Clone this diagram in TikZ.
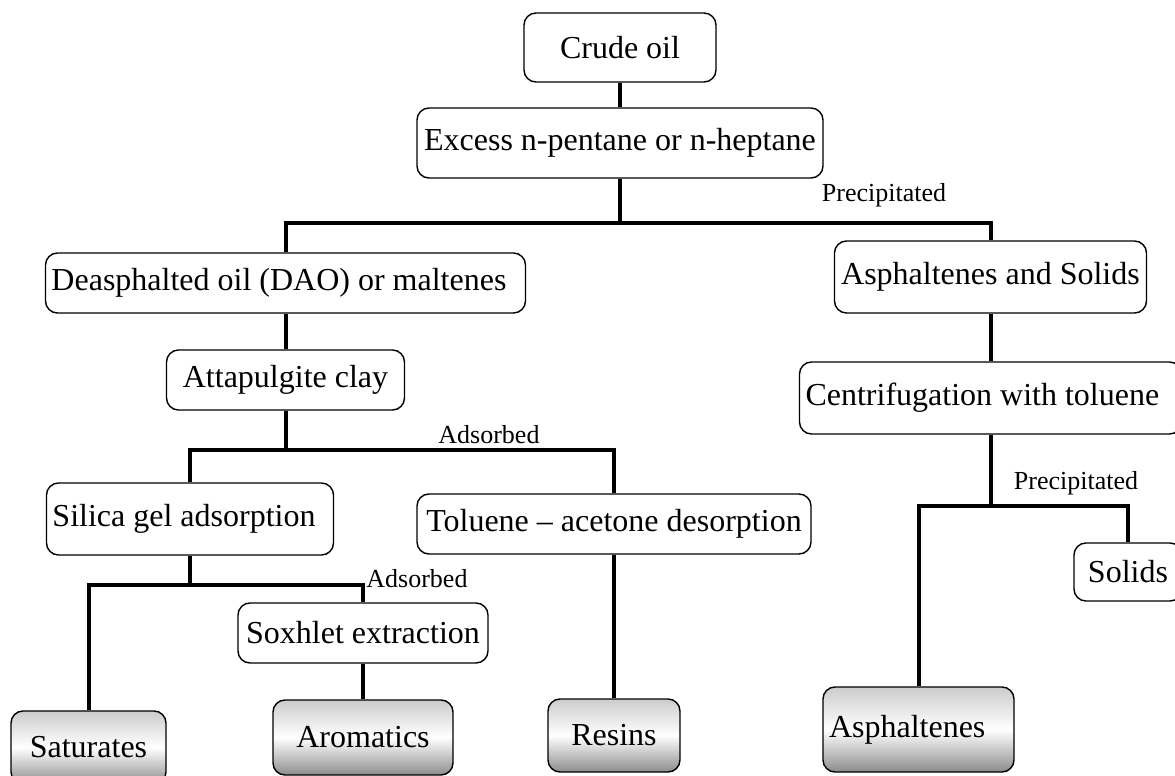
\documentclass[tikz,border=0pt]{standalone}
\usepackage{fontspec}
\setmainfont{Liberation Serif}
\tikzset{
  box/.style={draw, rounded corners=6pt, line width=0.7pt, fill=white, font=\fontsize{16}{19}\selectfont},
  lbox/.style={align=flush left, inner xsep=3pt, text width=#1},
  endbox/.style={box, top color=black!20, bottom color=black!45, middle color=white},
  link/.style={line width=2pt},
  tag/.style={font=\fontsize{13}{15}\selectfont, inner sep=0pt}
}
\begin{document}
\begin{tikzpicture}[x=0.5pt, y=-0.5pt]
	\useasboundingbox (0,0) rectangle (1175,776);

	% separazione del greggio
	\node[box, minimum width=96pt, minimum height=34.5pt] (crude) at (620,47.5) {Crude oil};
	\node[box, minimum width=203pt, minimum height=35pt] (excess) at (620,143) {Excess n-pentane or n-heptane};
	\node[box, lbox=234pt, minimum height=30pt] (dao) at (285.5,283) {Deasphalted oil (DAO) or maltenes};
	\node[box, minimum width=156pt, minimum height=36pt] (asol) at (990.5,277) {Asphaltenes and Solids};

	% ramo dei malteni
	\node[box, minimum width=119pt, minimum height=30pt] (attap) at (285.5,380) {Attapulgite clay};
	\node[box, lbox=137.5pt, minimum height=36pt] (silica) at (190,519) {Silica gel adsorption};
	\node[box, minimum width=197pt, minimum height=30pt] (toluene) at (614,524) {Toluene -- acetone desorption};
	\node[box, minimum width=125pt, minimum height=30pt] (soxhlet) at (363,633) {Soxhlet extraction};

	% ramo degli asfalteni
	\node[box, lbox=185pt, minimum height=36pt] (centr) at (990.5,398) {Centrifugation with toluene};
	\node[box, minimum width=54pt, minimum height=29pt] (solids) at (1128,572) {Solids};

	% frazioni finali
	\node[endbox, minimum width=77.5pt, minimum height=36.5pt] (sat) at (88.5,747.5) {Saturates};
	\node[endbox, minimum width=90pt, minimum height=37.5pt] (arom) at (363,737.5) {Aromatics};
	\node[endbox, minimum width=66pt, minimum height=36.5pt] (resins) at (614,735.5) {Resins};
	\node[endbox, lbox=89.5pt, minimum height=42.5pt] (asph) at (918.5,729.5) {Asphaltenes};

	% etichette
	\node[tag] (prec1) at (884,195) {Precipitated};
	\node[tag] (ads1) at (489,435) {Adsorbed};
	\node[tag] (ads2) at (417,579) {Adsorbed};
	\node[tag] (prec2) at (1076,483) {Precipitated};

	% collegamenti
	\coordinate (j1) at (620,223);
	\coordinate (j2) at (285.5,450);
	\coordinate (j3) at (190,585);
	\coordinate (j4) at (990.5,506);
	\draw[link] (crude) -- (excess);
	\draw[link] (excess) -- (j1);
	\draw[link] (dao) |- (j1) -| (asol);
	\draw[link] (dao) -- (attap);
	\draw[link] (attap) -- (j2);
	\draw[link] (silica) |- (j2) -| (toluene);
	\draw[link] (silica) -- (j3);
	\draw[link] (sat) |- (j3) -| (soxhlet);
	\draw[link] (soxhlet) -- (arom);
	\draw[link] (toluene) -- (resins);
	\draw[link] (asol) -- (centr);
	\draw[link] (centr) -- (j4);
	\draw[link] (asph) |- (j4) -| (solids);
\end{tikzpicture}
\end{document}
